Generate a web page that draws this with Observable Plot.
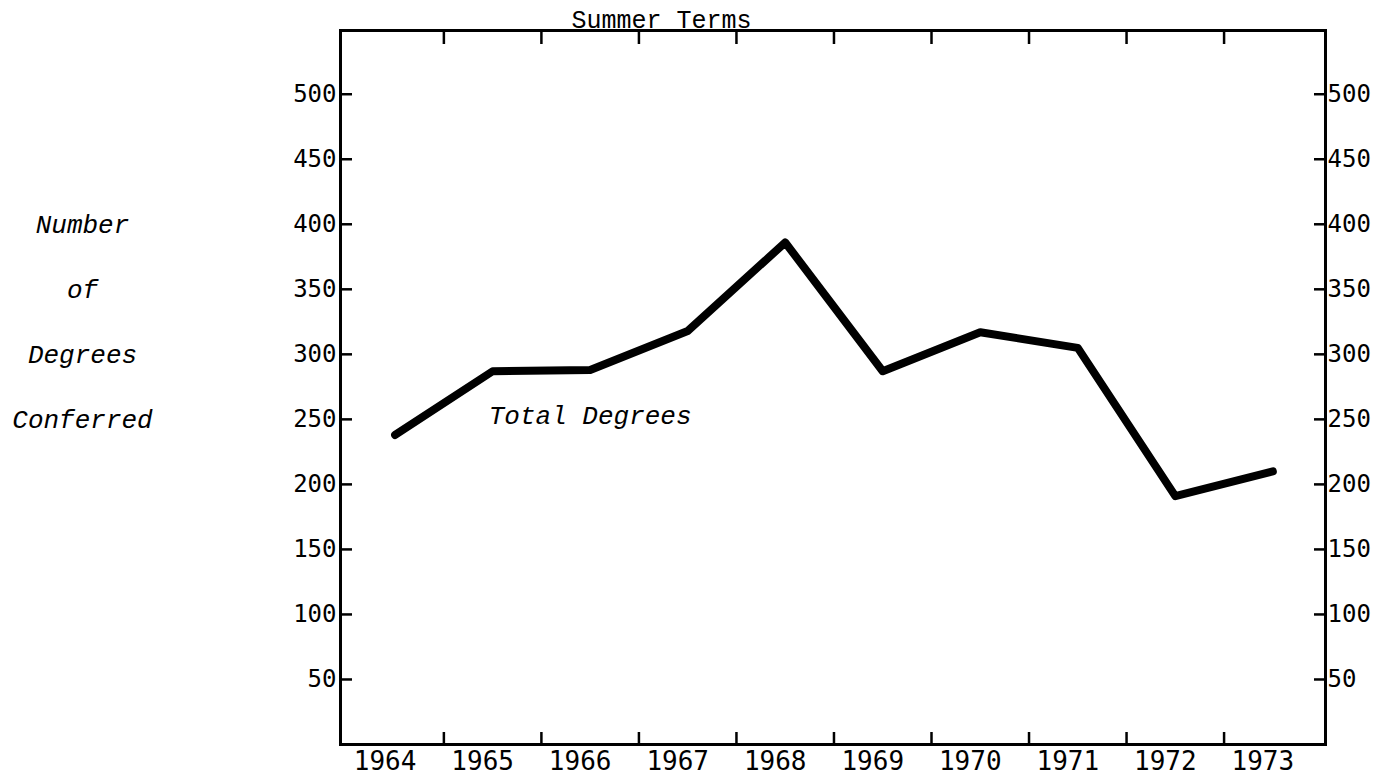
<!DOCTYPE html>
<html>
<head>
<meta charset="utf-8">
<script src="https://cdn.jsdelivr.net/npm/d3@7"></script>
<script src="https://cdn.jsdelivr.net/npm/@observablehq/plot@0.6"></script>
<style>
  html, body { margin: 0; padding: 0; background: #fff; }
  #chart svg { display: block; }
</style>
</head>
<body>
<div id="chart"></div>
<script>
// ---- data ----
const years = [1964, 1965, 1966, 1967, 1968, 1969, 1970, 1971, 1972, 1973];
const totalDegrees = [238, 287, 288, 318, 386, 287, 317, 305, 191, 210];
const yTickValues = [50, 100, 150, 200, 250, 300, 350, 400, 450, 500];
const axisTitleLines = ["Number", "of", "Degrees", "Conferred"];
const axisTitleRows = [400, 350, 300, 250];
const chartTitle = "Summer Terms";
const seriesLabel = "Total Degrees";
const seriesLabelAt = [{year: 1966, value: 253}];

// ---- layout ----
const W = 1393, H = 779;
const mL = 340, mR = 68, mT = 30, mB = 35;
const fw = W - mL - mR, fh = H - mT - mB;

const rows = years.map((year, i) => ({year, value: totalDegrees[i]}));
const boundaries = years.slice(0, -1).map(y => y + 0.5);
const titleRows = axisTitleLines.map((t, i) => ({t, v: axisTitleRows[i]}));

const mono = "'Liberation Mono', 'Courier New', monospace";
const sans = "'DejaVu Sans Mono', monospace";

const chart = Plot.plot({
  width: W,
  height: H,
  marginLeft: mL,
  marginRight: mR,
  marginTop: mT,
  marginBottom: mB,
  style: {background: "#fff", color: "#000", overflow: "visible"},
  x: {domain: [1963.44, 1973.54], label: null},
  y: {domain: [0, 549], label: null},
  marks: [
    Plot.frame({stroke: "#000", strokeWidth: 3}),
    // inward ticks on bottom and top edges
    Plot.ruleX(boundaries, {x: d => d, insetTop: fh - 12, stroke: "#000", strokeWidth: 2.5}),
    Plot.ruleX(boundaries, {x: d => d, insetBottom: fh - 14, stroke: "#000", strokeWidth: 2.5}),
    // inward ticks on left and right edges
    Plot.ruleY(yTickValues, {y: d => d, insetRight: fw - 12, stroke: "#000", strokeWidth: 2.5}),
    Plot.ruleY(yTickValues, {y: d => d, insetLeft: fw - 11, stroke: "#000", strokeWidth: 2.5}),
    Plot.axisX(years, {anchor: "bottom", tickSize: 0, tickPadding: 7, tickFormat: "d", dx: -10,
      fontSize: 26, fontFamily: sans, label: null}),
    Plot.axisY(yTickValues, {anchor: "left", tickSize: 0, tickPadding: 4, tickFormat: "d",
      fontSize: 24, fontFamily: sans, label: null}),
    Plot.axisY(yTickValues, {anchor: "right", tickSize: 0, tickPadding: 2, tickFormat: "d",
      fontSize: 24, fontFamily: sans, label: null}),
    Plot.line(rows, {x: "year", y: "value", stroke: "#000", strokeWidth: 8,
      strokeLinejoin: "round", strokeLinecap: "round"}),
    Plot.text(seriesLabelAt, {x: "year", y: "value", text: () => seriesLabel,
      fontSize: 26, fontFamily: mono, fontStyle: "italic", fill: "#000"}),
    Plot.text(titleRows, {y: "v", text: "t", frameAnchor: "left", dx: -258,
      textAnchor: "middle", fontSize: 26, fontFamily: mono, fontStyle: "italic", fill: "#000"}),
    Plot.text([chartTitle], {frameAnchor: "top-left", dx: 661 - mL, dy: -3,
      textAnchor: "middle", lineAnchor: "bottom", fontSize: 25, fontFamily: mono, fill: "#000"})
  ]
});

document.getElementById("chart").appendChild(chart);
d3.select(chart).selectAll("text").filter(function() { return this.textContent === chartTitle; })
  .style("text-decoration", "underline");
</script>
</body>
</html>
